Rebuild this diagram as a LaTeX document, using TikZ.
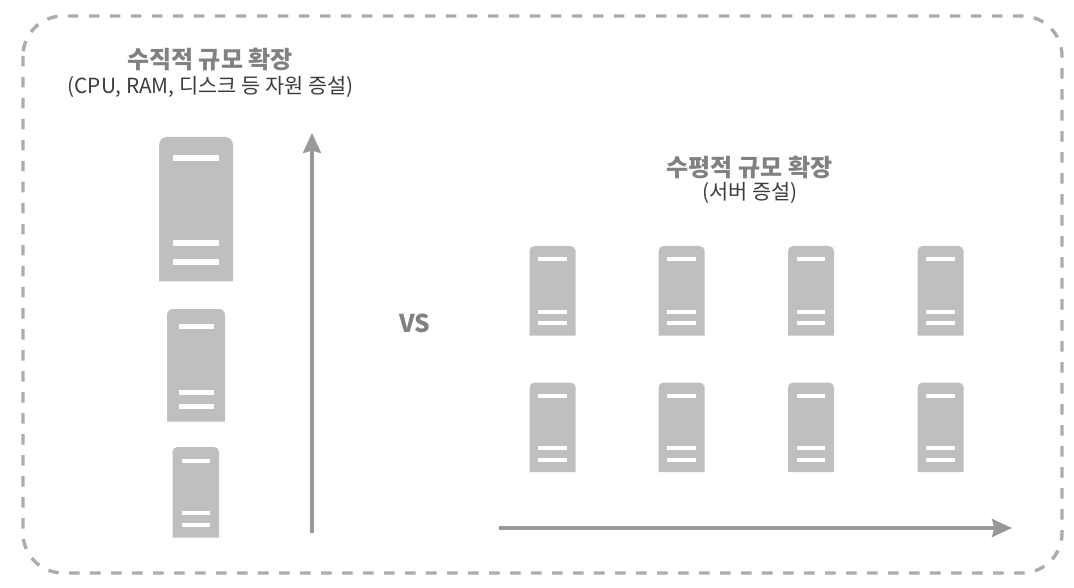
\documentclass[tikz,border=0pt]{standalone}
\usepackage{fontspec}
\setmainfont{Noto Sans CJK KR}
\usetikzlibrary{arrows.meta}
\definecolor{srvfill}{HTML}{BEBFC1}
\definecolor{framegray}{HTML}{ABACAE}
\definecolor{arrowgray}{HTML}{98999B}
\definecolor{titlegray}{HTML}{808183}
\definecolor{subgray}{HTML}{3C3C3E}
\tikzset{
  srvbody/.style={fill=srvfill,draw=none},
  srvbar/.style={fill=white,draw=none},
  frameline/.style={draw=framegray,line width=3.4pt,dash pattern=on 10.5pt off 10.5pt,rounded corners=40pt},
  scalearrow/.style={draw=arrowgray,line width=3.6pt,-{Stealth[length=20pt,width=18pt,inset=2.5pt]}},
  titletext/.style={font=\fontsize{24}{26}\selectfont\bfseries,text=titlegray,inner sep=0pt},
  subtext/.style={font=\fontsize{20.8}{23}\selectfont,text=subgray,inner sep=0pt},
  vstext/.style={font=\fontsize{24.5}{26}\selectfont\bfseries,text=titlegray,inner sep=0pt}
}
% args: left, top, right, bottom, corner, bar inset, bar height, then bar centres y
\newcommand{\srvdraw}[9]{%
  \def\barA{#8}\def\barB{#9}\srvdrawrest{#1}{#2}{#3}{#4}{#5}{#6}{#7}}
\newcommand{\srvdrawrest}[8]{%
  \path[srvbody,rounded corners=#5] (#1,#4) [sharp corners] -- (#1,#2+#5) [rounded corners=#5] -- (#1,#2) -- (#3,#2) -- (#3,#2+#5) [sharp corners] -- (#3,#4) -- cycle;
  \foreach \yy in {\barA,\barB,#8}{
    \path[srvbar] (#1+#6,\yy-#7/2) rectangle (#3-#6,\yy+#7/2);
  }}
\begin{document}
\begin{tikzpicture}[x=1pt,y=-1pt]
\useasboundingbox (0,0) rectangle (1074,588);
\path[frameline] (23,16) rectangle (1062,573);

\node[titletext] (titleV) at (210,59) {수직적 규모 확장};
\node[subtext] (subV) at (210.5,87) {(CPU, RAM, 디스크 등 자원 증설)};
\node[titletext] (titleH) at (749.5,167) {수평적 규모 확장};
\node[subtext] (subH) at (750,193) {(서버 증설)};
\node[vstext] (vs) at (415,323) {VS};

% vertical scale-up servers
\srvdraw{159}{137}{233}{281.5}{8}{14}{6}{158}{243}{262}
\srvdraw{167}{309}{225}{421.5}{6}{11.5}{5}{326}{392}{406}
\srvdraw{172.5}{447}{219}{537.5}{5}{9}{4}{460.5}{513}{524.5}

% horizontal scale-out servers
\foreach \cx in {529.5,658.5,788,917.5}{
  \foreach \ty in {246,382.5}{
    \pgfmathsetmacro{\rx}{\cx+46}
    \pgfmathsetmacro{\by}{\ty+89.7}
    \pgfmathsetmacro{\ya}{\ty+13.2}
    \pgfmathsetmacro{\yb}{\ty+65.5}
    \pgfmathsetmacro{\yc}{\ty+77}
    \srvdraw{\cx}{\ty}{\rx}{\by}{5}{8.7}{4}{\ya}{\yb}{\yc}
  }
}

\coordinate (vStart) at (312,533);
\coordinate (vEnd) at (312,133);
\coordinate (hStart) at (499,528);
\coordinate (hEnd) at (1012,528);
\draw[scalearrow] (vStart) -- (vEnd);
\draw[scalearrow] (hStart) -- (hEnd);
\end{tikzpicture}
\end{document}
